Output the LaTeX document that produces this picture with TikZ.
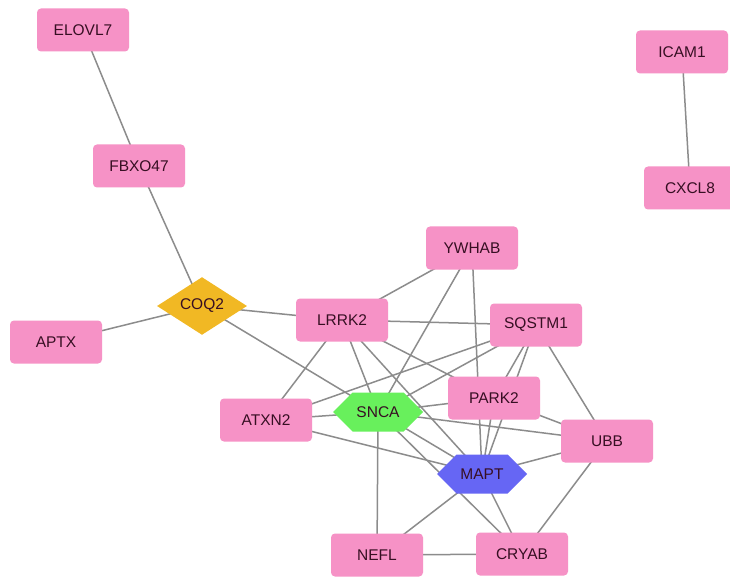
\documentclass[tikz,border=0pt]{standalone}
\usepackage{fontspec}
\setmainfont{Liberation Sans}
\usetikzlibrary{shapes.geometric,shapes.symbols,backgrounds}
\definecolor{boxpink}{RGB}{246,146,198}
\definecolor{coqgold}{RGB}{241,184,36}
\definecolor{sncagreen}{RGB}{104,240,92}
\definecolor{maptblue}{RGB}{102,102,244}
\definecolor{edgegray}{RGB}{140,140,140}
\definecolor{txtdark}{RGB}{55,15,35}
\tikzset{
  gene/.style={rectangle, rounded corners=4pt, fill=boxpink, minimum width=92pt, minimum height=43pt,
    inner sep=0pt, font=\fontsize{15.5}{17}\selectfont, text=txtdark},
  hexnode/.style={shape=signal, signal to=west and east, signal pointer angle=90,
    minimum width=90pt, minimum height=39pt, inner sep=0pt, font=\fontsize{15.5}{17}\selectfont, text=txtdark},
  dianode/.style={diamond, fill=coqgold, minimum width=90pt, minimum height=44pt, inner sep=0pt,
    font=\fontsize{15.5}{17}\selectfont, text=txtdark},
  link/.style={draw=edgegray, line width=1.5pt}
}
\begin{document}
\begin{tikzpicture}[x=1pt,y=-1pt]
\useasboundingbox (0,0) rectangle (730,577);
% nodes
\node[gene] (elovl7) at (83,30) {ELOVL7};
\node[gene] (fbxo47) at (139,166) {FBXO47};
\node[gene] (icam1) at (682,52) {ICAM1};
\node[gene] (cxcl8) at (690,188) {CXCL8};
\node[dianode] (coq2) at (202,306) {COQ2};
\node[gene] (aptx) at (56,342) {APTX};
\node[gene] (ywhab) at (472,248) {YWHAB};
\node[gene] (lrrk2) at (342,320) {LRRK2};
\node[gene] (sqstm1) at (536,325) {SQSTM1};
\node[gene] (park2) at (494,398) {PARK2};
\node[gene] (atxn2) at (266,420) {ATXN2};
\node[gene] (ubb) at (607,441) {UBB};
\node[hexnode, fill=sncagreen] (snca) at (378,412) {SNCA};
\node[hexnode, fill=maptblue] (mapt) at (482,474) {MAPT};
\node[gene] (nefl) at (377,555) {NEFL};
\node[gene] (cryab) at (522,554) {CRYAB};
% edges
\begin{pgfonlayer}{background}
\fill[white] (0,0) rectangle (730,577);
\draw[link] (elovl7.center) -- (fbxo47.center);
\draw[link] (fbxo47.center) -- (coq2.center);
\draw[link] (icam1.center) -- (cxcl8.center);
\draw[link] (aptx.center) -- (coq2.center);
\draw[link] (coq2.center) -- (lrrk2.center);
\draw[link] (coq2.center) -- (snca.center);
\draw[link] (ywhab.center) -- (lrrk2.center);
\draw[link] (ywhab.center) -- (snca.center);
\draw[link] (ywhab.center) -- (mapt.center);
\draw[link] (lrrk2.center) -- (sqstm1.center);
\draw[link] (lrrk2.center) -- (atxn2.center);
\draw[link] (lrrk2.center) -- (snca.center);
\draw[link] (lrrk2.center) -- (mapt.center);
\draw[link] (lrrk2.center) -- (park2.center);
\draw[link] (sqstm1.center) -- (atxn2.center);
\draw[link] (sqstm1.center) -- (snca.center);
\draw[link] (sqstm1.center) -- (park2.center);
\draw[link] (sqstm1.center) -- (mapt.center);
\draw[link] (sqstm1.center) -- (ubb.center);
\draw[link] (atxn2.center) -- (snca.center);
\draw[link] (atxn2.center) -- (mapt.center);
\draw[link] (snca.center) -- (park2.center);
\draw[link] (snca.center) -- (ubb.center);
\draw[link] (snca.center) -- (mapt.center);
\draw[link] (snca.center) -- (nefl.center);
\draw[link] (snca.center) -- (cryab.center);
\draw[link] (park2.center) -- (ubb.center);
\draw[link] (park2.center) -- (mapt.center);
\draw[link] (mapt.center) -- (ubb.center);
\draw[link] (mapt.center) -- (nefl.center);
\draw[link] (mapt.center) -- (cryab.center);
\draw[link] (nefl.center) -- (cryab.center);
\draw[link] (ubb.center) -- (cryab.center);
\end{pgfonlayer}
\end{tikzpicture}
\end{document}
